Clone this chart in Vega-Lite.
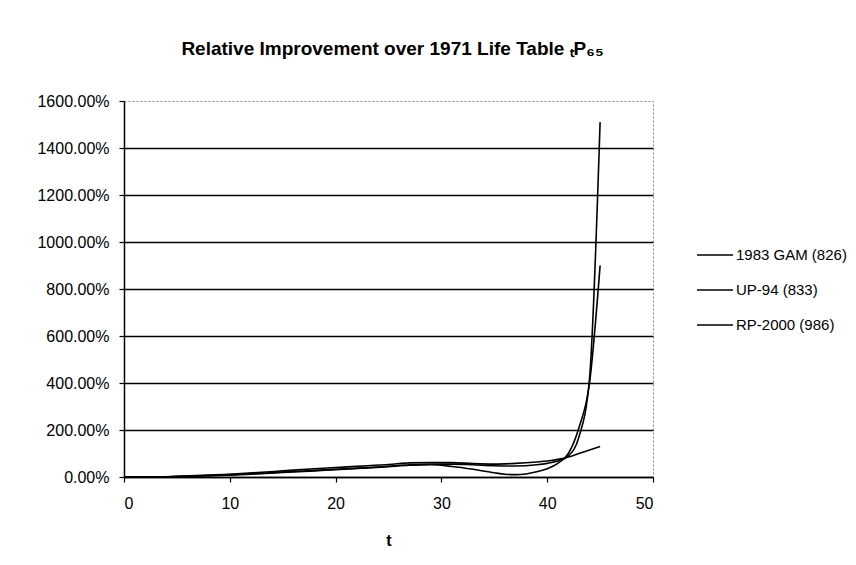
{
  "$schema": "https://vega.github.io/schema/vega-lite/v6.json",
  "width": 529,
  "height": 376,
  "autosize": {"type": "none"},
  "padding": {"left": 124, "top": 101, "right": 203, "bottom": 88},
  "background": "white",
  "title": {
    "text": "Relative Improvement over 1971 Life Table ₜP₆₅",
    "font": "Liberation Sans",
    "fontSize": 19,
    "fontWeight": "bold",
    "color": "black",
    "anchor": "middle",
    "dx": 4,
    "offset": 34
  },
  "datasets": {
    "curves": [
      {"t": 0, "series": "1983 GAM (826)", "pct": 0},
      {"t": 3, "series": "1983 GAM (826)", "pct": 0},
      {"t": 5, "series": "1983 GAM (826)", "pct": 2},
      {"t": 8, "series": "1983 GAM (826)", "pct": 6},
      {"t": 10, "series": "1983 GAM (826)", "pct": 10},
      {"t": 13, "series": "1983 GAM (826)", "pct": 16},
      {"t": 15, "series": "1983 GAM (826)", "pct": 21},
      {"t": 18, "series": "1983 GAM (826)", "pct": 28},
      {"t": 20, "series": "1983 GAM (826)", "pct": 33},
      {"t": 23, "series": "1983 GAM (826)", "pct": 40},
      {"t": 25, "series": "1983 GAM (826)", "pct": 46},
      {"t": 27, "series": "1983 GAM (826)", "pct": 52},
      {"t": 29, "series": "1983 GAM (826)", "pct": 55},
      {"t": 31, "series": "1983 GAM (826)", "pct": 55},
      {"t": 33, "series": "1983 GAM (826)", "pct": 52},
      {"t": 35, "series": "1983 GAM (826)", "pct": 48},
      {"t": 37, "series": "1983 GAM (826)", "pct": 47},
      {"t": 39, "series": "1983 GAM (826)", "pct": 52},
      {"t": 40, "series": "1983 GAM (826)", "pct": 58},
      {"t": 41, "series": "1983 GAM (826)", "pct": 68},
      {"t": 42, "series": "1983 GAM (826)", "pct": 90},
      {"t": 43, "series": "1983 GAM (826)", "pct": 170},
      {"t": 44, "series": "1983 GAM (826)", "pct": 420},
      {"t": 45, "series": "1983 GAM (826)", "pct": 1510},
      {"t": 0, "series": "UP-94 (833)", "pct": 0},
      {"t": 3, "series": "UP-94 (833)", "pct": 0},
      {"t": 5, "series": "UP-94 (833)", "pct": 2},
      {"t": 8, "series": "UP-94 (833)", "pct": 5},
      {"t": 10, "series": "UP-94 (833)", "pct": 8},
      {"t": 13, "series": "UP-94 (833)", "pct": 14},
      {"t": 15, "series": "UP-94 (833)", "pct": 19},
      {"t": 18, "series": "UP-94 (833)", "pct": 26},
      {"t": 20, "series": "UP-94 (833)", "pct": 31},
      {"t": 23, "series": "UP-94 (833)", "pct": 38},
      {"t": 25, "series": "UP-94 (833)", "pct": 44},
      {"t": 27, "series": "UP-94 (833)", "pct": 50},
      {"t": 29, "series": "UP-94 (833)", "pct": 52},
      {"t": 31, "series": "UP-94 (833)", "pct": 45},
      {"t": 33, "series": "UP-94 (833)", "pct": 33},
      {"t": 35, "series": "UP-94 (833)", "pct": 18},
      {"t": 36, "series": "UP-94 (833)", "pct": 12},
      {"t": 37, "series": "UP-94 (833)", "pct": 10},
      {"t": 38, "series": "UP-94 (833)", "pct": 13},
      {"t": 39, "series": "UP-94 (833)", "pct": 22},
      {"t": 40, "series": "UP-94 (833)", "pct": 35},
      {"t": 41, "series": "UP-94 (833)", "pct": 58},
      {"t": 42, "series": "UP-94 (833)", "pct": 100},
      {"t": 43, "series": "UP-94 (833)", "pct": 210},
      {"t": 44, "series": "UP-94 (833)", "pct": 400},
      {"t": 45, "series": "UP-94 (833)", "pct": 900},
      {"t": 0, "series": "RP-2000 (986)", "pct": 0},
      {"t": 3, "series": "RP-2000 (986)", "pct": 0},
      {"t": 5, "series": "RP-2000 (986)", "pct": 3},
      {"t": 8, "series": "RP-2000 (986)", "pct": 8},
      {"t": 10, "series": "RP-2000 (986)", "pct": 12},
      {"t": 13, "series": "RP-2000 (986)", "pct": 20},
      {"t": 15, "series": "RP-2000 (986)", "pct": 26},
      {"t": 18, "series": "RP-2000 (986)", "pct": 35},
      {"t": 20, "series": "RP-2000 (986)", "pct": 40},
      {"t": 23, "series": "RP-2000 (986)", "pct": 48},
      {"t": 25, "series": "RP-2000 (986)", "pct": 53},
      {"t": 27, "series": "RP-2000 (986)", "pct": 60},
      {"t": 29, "series": "RP-2000 (986)", "pct": 62},
      {"t": 31, "series": "RP-2000 (986)", "pct": 61},
      {"t": 33, "series": "RP-2000 (986)", "pct": 57},
      {"t": 35, "series": "RP-2000 (986)", "pct": 55},
      {"t": 37, "series": "RP-2000 (986)", "pct": 58},
      {"t": 39, "series": "RP-2000 (986)", "pct": 64},
      {"t": 40, "series": "RP-2000 (986)", "pct": 68},
      {"t": 41, "series": "RP-2000 (986)", "pct": 75},
      {"t": 42, "series": "RP-2000 (986)", "pct": 85},
      {"t": 43, "series": "RP-2000 (986)", "pct": 100},
      {"t": 44, "series": "RP-2000 (986)", "pct": 115},
      {"t": 45, "series": "RP-2000 (986)", "pct": 130}
    ]
  },
  "data": {"name": "curves"},
  "mark": {"type": "line", "interpolate": "monotone", "strokeWidth": 1.6},
  "encoding": {
    "x": {
      "field": "t",
      "type": "quantitative",
      "scale": {"domain": [0, 50], "nice": false},
      "axis": {
        "values": [0, 10, 20, 30, 40, 50],
        "title": "t",
        "titleFont": "Liberation Sans",
        "titleFontSize": 16,
        "titleFontWeight": "bold",
        "titleColor": "black",
        "titlePadding": 21,
        "labelFont": "Liberation Sans",
        "labelFontSize": 16,
        "labelColor": "black",
        "labelPadding": 13,
        "domainColor": "black",
        "domainWidth": 1.5,
        "tickColor": "black",
        "tickSize": 5,
        "tickWidth": 1.2,
        "grid": false
      }
    },
    "y": {
      "field": "pct",
      "type": "quantitative",
      "scale": {"domain": [0, 1600], "nice": false},
      "axis": {
        "values": [0, 200, 400, 600, 800, 1000, 1200, 1400, 1600],
        "labelExpr": "format(datum.value, '.2f') + '%'",
        "title": null,
        "labelFont": "Liberation Sans",
        "labelFontSize": 16,
        "labelColor": "black",
        "labelPadding": 10,
        "domainColor": "black",
        "domainWidth": 1.5,
        "tickColor": "black",
        "tickSize": 5,
        "tickWidth": 1.2,
        "grid": true,
        "gridColor": "black",
        "gridWidth": 1.5,
        "gridOpacity": {"condition": {"test": "datum.value == 1600", "value": 0}, "value": 1}
      }
    },
    "color": {
      "field": "series",
      "type": "nominal",
      "sort": ["1983 GAM (826)", "UP-94 (833)", "RP-2000 (986)"],
      "scale": {
        "domain": ["1983 GAM (826)", "UP-94 (833)", "RP-2000 (986)"],
        "range": ["black", "black", "black"]
      },
      "legend": {
        "title": null,
        "orient": "none",
        "legendX": 572,
        "legendY": 135,
        "symbolType": "stroke",
        "symbolSize": 1300,
        "symbolStrokeWidth": 1.6,
        "symbolStrokeColor": "black",
        "labelFont": "Liberation Sans",
        "labelFontSize": 15,
        "labelColor": "black",
        "labelOffset": 2,
        "rowPadding": 8
      }
    }
  },
  "config": {
    "view": {"stroke": "#888888", "strokeDash": [2, 2], "strokeWidth": 1}
  }
}
